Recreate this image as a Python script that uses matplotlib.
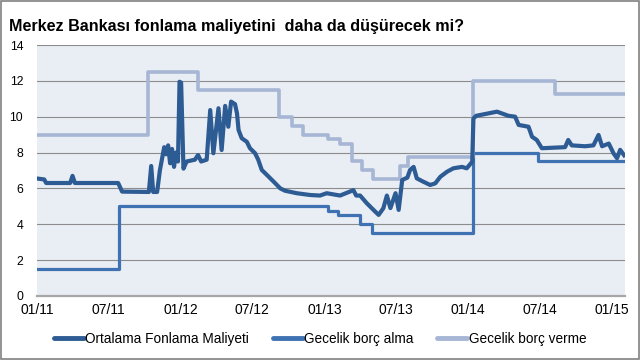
import matplotlib
matplotlib.use("Agg")
import matplotlib.pyplot as plt
import matplotlib.dates as mdates
import pandas as pd
from matplotlib.patches import Rectangle

plt.rcParams["font.family"] = ["Liberation Sans", "DejaVu Sans"]

title = "Merkez Bankası fonlama maliyetini  daha da düşürecek mi?"
series_names = ["Ortalama Fonlama Maliyeti", "Gecelik borç alma", "Gecelik borç verme"]

# average funding cost
avg_dates = [
    "2011-01-01", "2011-01-19", "2011-01-24", "2011-03-26", "2011-04-01", "2011-04-07",
    "2011-07-26", "2011-08-05", "2011-10-12", "2011-10-18", "2011-10-23", "2011-11-02",
    "2011-11-09", "2011-11-20", "2011-11-25", "2011-11-30", "2011-12-05", "2011-12-10",
    "2011-12-15", "2011-12-20", "2011-12-25", "2011-12-29", "2012-01-02", "2012-01-08",
    "2012-01-16", "2012-02-06", "2012-02-14", "2012-02-22", "2012-03-07", "2012-03-16",
    "2012-03-24", "2012-04-06", "2012-04-14", "2012-04-23", "2012-05-01", "2012-05-08",
    "2012-05-18", "2012-05-23", "2012-05-27", "2012-06-04", "2012-06-17", "2012-06-25",
    "2012-07-08", "2012-07-16", "2012-07-25", "2012-08-07", "2012-08-24", "2012-09-10",
    "2012-09-22", "2012-10-22", "2012-11-25", "2012-12-20", "2013-01-06", "2013-02-09",
    "2013-03-15", "2013-03-22", "2013-04-01", "2013-04-18", "2013-05-05", "2013-05-18",
    "2013-05-30", "2013-06-08", "2013-06-17", "2013-06-30", "2013-07-08", "2013-07-17",
    "2013-07-30", "2013-08-06", "2013-08-15", "2013-08-23", "2013-09-08", "2013-09-26",
    "2013-10-09", "2013-10-22", "2013-11-08", "2013-11-24", "2013-12-16", "2013-12-28",
    "2014-01-11", "2014-01-14", "2014-01-21", "2014-02-13", "2014-03-15", "2014-04-13",
    "2014-04-30", "2014-05-09", "2014-06-03", "2014-06-12", "2014-06-24", "2014-07-07",
    "2014-09-04", "2014-09-12", "2014-09-21", "2014-10-25", "2014-11-15", "2014-11-28",
    "2014-12-07", "2014-12-24", "2015-01-05", "2015-01-14", "2015-01-22", "2015-02-01",
]
avg_values = [
    6.55, 6.5, 6.3, 6.3, 6.7, 6.3,
    6.3, 5.82, 5.8, 7.25, 5.8, 5.8,
    7.0, 8.3, 7.9, 8.4, 7.4, 8.2,
    7.2, 8.0, 7.5, 11.95, 11.9, 7.1,
    7.5, 7.6, 7.86, 7.5, 7.6, 10.37,
    7.96, 10.47, 8.14, 10.6, 9.44, 10.84,
    10.7, 10.19, 9.26, 8.8, 8.6, 8.24,
    7.96, 7.6, 7.03, 6.75, 6.38, 6.0,
    5.87, 5.73, 5.63, 5.6, 5.73, 5.6,
    5.9, 5.6, 5.6, 5.17, 4.8, 4.52,
    4.89, 5.6, 4.9, 5.73, 4.8, 6.47,
    6.6, 7.03, 7.2, 6.56, 6.38, 6.19,
    6.28, 6.65, 6.93, 7.12, 7.2, 7.12,
    7.49, 9.9, 10.05, 10.15, 10.28, 10.05,
    10.0, 9.54, 9.44, 8.88, 8.7, 8.24,
    8.3, 8.7, 8.4, 8.35, 8.4, 8.98,
    8.35, 8.5, 7.96, 7.68, 8.15, 7.85,
]

# overnight borrowing rate (step changes)
borrow_dates = ["2011-01-01", "2011-07-28", "2013-01-10", "2013-02-05", "2013-04-01",
                "2013-05-01", "2014-01-13", "2014-06-27", "2015-02-01"]
borrow_values = [1.5, 5.0, 4.75, 4.5, 4.0, 3.5, 8.0, 7.5, 7.5]

# overnight lending rate (step changes)
lend_dates = ["2011-01-01", "2011-10-11", "2012-02-13", "2012-09-06", "2012-10-09",
              "2012-11-08", "2013-01-10", "2013-02-09", "2013-03-11", "2013-04-05",
              "2013-05-05", "2013-07-12", "2013-08-01", "2014-01-13", "2014-08-09",
              "2015-02-01"]
lend_values = [9.0, 12.5, 11.5, 10.0, 9.5, 9.0, 8.75, 8.5, 7.5, 7.0, 6.5, 7.25, 7.75,
               12.0, 11.25, 11.25]

tick_dates = ["2011-01-01", "2011-07-01", "2012-01-01", "2012-07-01", "2013-01-01",
              "2013-07-01", "2014-01-01", "2014-07-01", "2015-01-01"]

fig = plt.figure(figsize=(6.4, 3.6), dpi=100)
fig.patch.set_facecolor("white")
ax = fig.add_axes([0.058, 0.178, 0.919, 0.697])
ax.set_facecolor("#e9edf4")

ax.step(pd.to_datetime(borrow_dates), borrow_values, where="post",
        color="#3f72b3", lw=2.3, label=series_names[1], zorder=3)
ax.step(pd.to_datetime(lend_dates), lend_values, where="post",
        color="#a6b6d4", lw=2.6, label=series_names[2], zorder=3)
ax.plot(pd.to_datetime(avg_dates), avg_values, color="#2d5b93", lw=3.0,
        label=series_names[0], zorder=4, solid_joinstyle="round")

ax.set_ylim(0, 14)
ax.set_yticks(range(0, 15, 2))
ax.set_xlim(pd.Timestamp("2011-01-01"), pd.Timestamp("2015-02-04"))
ax.set_xticks(pd.to_datetime(tick_dates))
ax.xaxis.set_major_formatter(mdates.DateFormatter("%m/%y"))
ax.grid(axis="y", color="#8c8c8c", lw=0.8)
ax.set_axisbelow(True)
for side in ("top", "right", "left"):
    ax.spines[side].set_visible(False)
ax.spines["bottom"].set_color("#a6a6a6")
ax.spines["bottom"].set_linewidth(1.6)
ax.tick_params(axis="y", length=0, pad=10, labelsize=8.8)
ax.tick_params(axis="x", length=0, pad=5, labelsize=10)

fig.text(0.014, 0.925, title, fontsize=11.6, fontweight="bold", ha="left", va="center")

handles, labels = ax.get_legend_handles_labels()
order = [2, 0, 1]
leg = fig.legend([handles[i] for i in order], [labels[i] for i in order],
                 loc="center", bbox_to_anchor=(0.5, 0.058), ncol=3, frameon=False,
                 fontsize=9.8, handlelength=2.2, handletextpad=0.1, columnspacing=1.75)
for line in leg.get_lines():
    line.set_linewidth(3.5)
    line.set_solid_capstyle("round")

fig.add_artist(Rectangle((0.001, 0.002), 0.997, 0.995, transform=fig.transFigure,
                         fill=False, edgecolor="#808080", lw=1.2))

fig.savefig("out.png", dpi=100)
